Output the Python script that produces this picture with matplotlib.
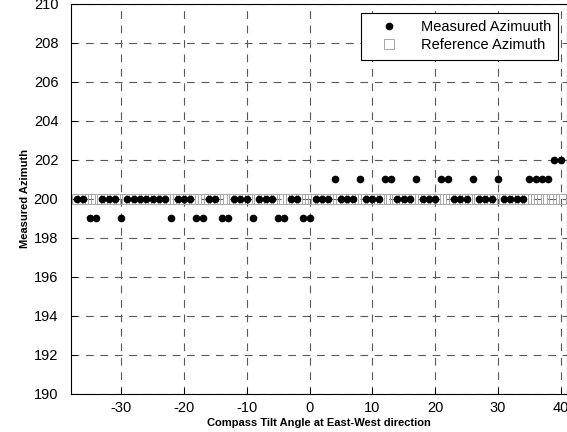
import matplotlib
matplotlib.use("Agg")
import matplotlib.pyplot as plt

# Data
tilt_angle = [-37, -36, -35, -34, -33, -32, -31, -30, -29, -28, -27, -26, -25, -24, -23,
              -22, -21, -20, -19, -18, -17, -16, -15, -14, -13, -12, -11, -10, -9, -8,
              -7, -6, -5, -4, -3, -2, -1, 0, 1, 2, 3, 4, 5, 6, 7, 8, 9, 10, 11, 12, 13,
              14, 15, 16, 17, 18, 19, 20, 21, 22, 23, 24, 25, 26, 27, 28, 29, 30, 31, 32,
              33, 34, 35, 36, 37, 38, 39, 40]
measured = [200, 200, 199, 199, 200, 200, 200, 199, 200, 200, 200, 200, 200, 200, 200,
            199, 200, 200, 200, 199, 199, 200, 200, 199, 199, 200, 200, 200, 199, 200,
            200, 200, 199, 199, 200, 200, 199, 199, 200, 200, 200, 201, 200, 200, 200, 201,
            200, 200, 200, 201, 201, 200, 200, 200, 201, 200, 200, 200, 201, 201, 200, 200,
            200, 201, 200, 200, 200, 201, 200, 200, 200, 200, 201, 201, 201, 201, 202, 202]
reference_value = 200
x_ticks = [-30, -20, -10, 0, 10, 20, 30, 40]
y_ticks = [190, 192, 194, 196, 198, 200, 202, 204, 206, 208, 210]

plt.rcParams['font.family'] = ['Liberation Sans', 'DejaVu Sans']
plt.rcParams['axes.unicode_minus'] = False

fig = plt.figure(figsize=(5.67, 4.32), dpi=100)
ax = fig.add_axes([0.125, 0.088, 0.875, 0.903])

ax.plot(tilt_angle, [reference_value] * len(tilt_angle), linestyle='none', marker='s',
        markersize=6.5, markerfacecolor='none', markeredgecolor='#a8a8a8',
        markeredgewidth=0.7, label='Reference Azimuth', zorder=2)
ax.plot(tilt_angle, measured, linestyle='none', marker='o', markersize=4.5,
        color='black', label='Measured Azimuuth', zorder=3)

ax.set_xlim(-38, 41)
ax.set_ylim(190, 210)
ax.set_xticks(x_ticks)
ax.set_yticks(y_ticks)
ax.tick_params(labelsize=10.5, direction='in', length=4, width=0.7)
ax.tick_params(axis='y', pad=9)
ax.tick_params(axis='x', pad=5)
ax.grid(True, color='0.35', linestyle=(0, (7, 6)), linewidth=0.8)
for s in ax.spines.values():
    s.set_linewidth(0.8)

ax.set_xlabel('Compass Tilt Angle at East-West direction', fontsize=8, fontweight='bold',
              labelpad=2)
ax.set_ylabel('Measured Azimuth', fontsize=8, fontweight='bold', labelpad=3)

handles, labels = ax.get_legend_handles_labels()
leg = ax.legend(handles[::-1], labels[::-1], loc='upper right', fontsize=10.5,
                frameon=True, fancybox=False, edgecolor='black', framealpha=1,
                borderaxespad=0.6, handletextpad=0.8, labelspacing=0.3,
                borderpad=0.5, handlelength=2.8)
leg.get_frame().set_linewidth(0.8)

fig.savefig('out.png', dpi=100)
